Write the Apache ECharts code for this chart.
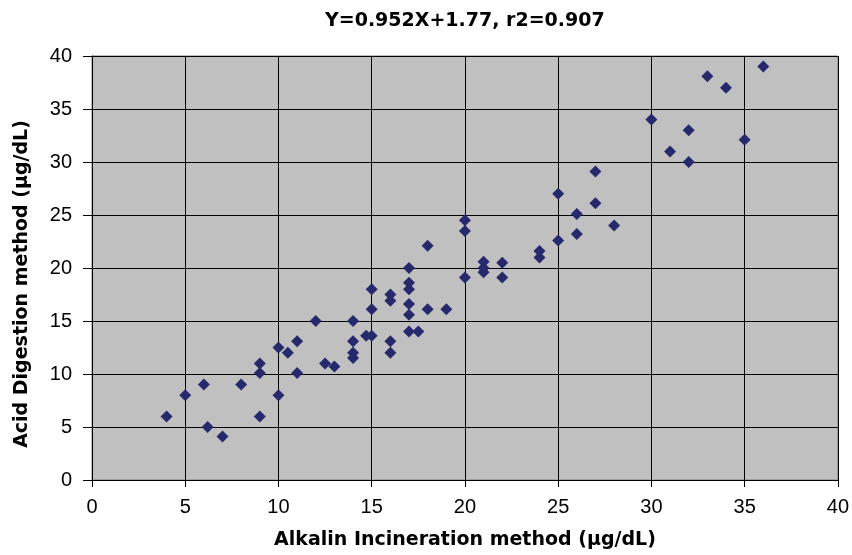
<html lang="en">
  <head>
    <meta charset="UTF-8" />
    <title>Acid Digestion vs Alkalin Incineration</title>
    <style>
      html, body { margin: 0; padding: 0; background: #fff; }
      #main { width: 852px; height: 555px; }
    </style>
  </head>
  <body>
    <div id="main"></div>

    <script src="https://cdn.jsdelivr.net/npm/echarts@6/dist/echarts.min.js"></script>
    <script>
      // Alkalin Incineration (x) vs Acid Digestion (y), µg/dL
      let xValues = [4, 5, 6, 6.2, 7, 8, 9, 9, 9, 10, 10, 10.5, 11, 11, 12, 12.5, 13,
        14, 14, 14, 14, 14.7, 15, 15, 15, 16, 16, 16, 16, 17, 17, 17, 17, 17, 17, 17.5,
        18, 18, 19, 20, 20, 20, 21, 21, 21, 22, 22, 24, 24, 25, 25, 26, 26, 27, 27, 28,
        30, 31, 32, 32, 33, 34, 35, 36]
      let yValues = [6, 8, 9, 5, 4.1, 9, 11, 10.1, 6, 12.5, 8, 12, 13.1, 10.1, 15, 11, 10.7,
        15, 13.1, 12, 11.5, 13.6, 13.6, 18, 16.1, 17.5, 16.9, 13.1, 12, 20, 18.6, 18, 16.6, 15.6, 14, 14,
        22.1, 16.1, 16.1, 24.5, 23.5, 19.1, 20.6, 20, 19.6, 20.5, 19.1, 21.6, 21, 22.6, 27, 25.1, 23.2, 29.1, 26.1, 24,
        34, 31, 33, 30, 38.1, 37, 32.1, 39]
      let xTicks = [0, 40, 5]   // min, max, interval
      let yTicks = [0, 40, 5]

      let points = xValues.map((x, i) => [x, yValues[i]])

      let myChart = echarts.init(document.getElementById('main'), null, { renderer: 'canvas' })

      let tickLabel = {
        color: '#000',
        fontFamily: 'Liberation Sans, Arial, sans-serif',
        fontSize: 20
      }

      let option = {
        animation: false,
        backgroundColor: '#fff',
        title: {
          text: 'Y=0.952X+1.77, r2=0.907',
          left: 320,
          top: 7,
          textStyle: {
            color: '#000',
            fontFamily: 'DejaVu Sans, sans-serif',
            fontWeight: 'bold',
            fontSize: 19
          }
        },
        grid: {
          left: 92,
          right: 13,
          top: 56,
          bottom: 74,
          show: true,
          backgroundColor: '#c0c0c0',
          borderColor: '#808080',
          borderWidth: 1
        },
        xAxis: {
          type: 'value',
          min: xTicks[0],
          max: xTicks[1],
          interval: xTicks[2],
          name: 'Alkalin Incineration method (µg/dL)',
          nameLocation: 'middle',
          nameGap: 51,
          nameTextStyle: {
            color: '#000',
            fontFamily: 'DejaVu Sans, sans-serif',
            fontWeight: 'bold',
            fontSize: 19,
            verticalAlign: 'top'
          },
          axisLine: { show: true, lineStyle: { color: '#000', width: 1 } },
          axisTick: { show: true, inside: false, length: 7, lineStyle: { color: '#000' } },
          axisLabel: Object.assign({ margin: 17 }, tickLabel),
          splitLine: { show: true, lineStyle: { color: '#000', width: 1 } }
        },
        yAxis: {
          type: 'value',
          min: yTicks[0],
          max: yTicks[1],
          interval: yTicks[2],
          axisLine: { show: true, lineStyle: { color: '#000', width: 1 } },
          axisTick: { show: true, inside: false, length: 9, lineStyle: { color: '#000' } },
          axisLabel: Object.assign({ margin: 20 }, tickLabel),
          splitLine: { show: true, lineStyle: { color: '#000', width: 1 } }
        },
        graphic: [
          {
            type: 'text',
            x: 22,
            y: 284,
            rotation: Math.PI / 2,
            style: {
              text: 'Acid Digestion method (µg/dL)',
              fill: '#000',
              font: 'bold 19px "DejaVu Sans", sans-serif',
              textAlign: 'center',
              textVerticalAlign: 'middle'
            }
          }
        ],
        series: [
          {
            type: 'scatter',
            data: points,
            symbol: 'diamond',
            symbolSize: 12,
            itemStyle: { color: '#262a6c', opacity: 1 }
          }
        ]
      }
      myChart.setOption(option)
    </script>
  </body>
</html>
